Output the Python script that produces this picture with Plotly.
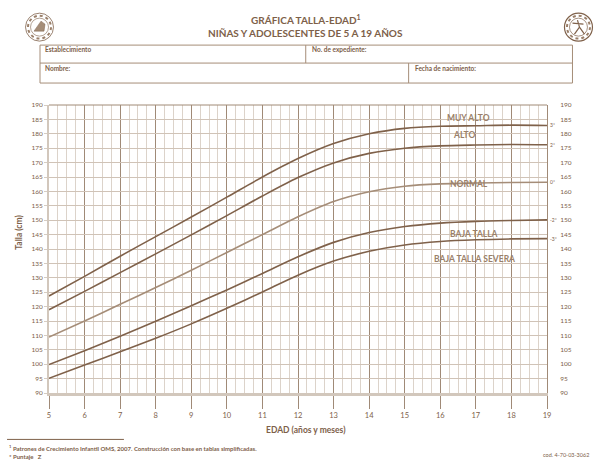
import plotly.graph_objects as go

W, H = 603, 465
IZQ, DER, ARR, ABA = 49, 547.5, 105, 393.5
FUENTE = "Lato"
CAFE = "#7d6049"
LINEA = "#7f614a"
LINEA_CLARA = "#a58d78"

edades = list(range(5, 20))
z_m3 = [95.1, 99.7, 104.3, 109.0, 114.0, 119.4, 125.1, 130.9, 135.8, 139.2, 141.4, 142.6, 143.2, 143.5, 143.6]
z_m2 = [99.9, 104.7, 109.7, 114.9, 120.3, 125.8, 131.5, 137.3, 142.3, 145.7, 147.8, 149.0, 149.6, 149.9, 150.1]
z_0 = [109.4, 115.0, 120.8, 126.6, 132.6, 138.8, 145.0, 151.2, 156.5, 159.9, 161.8, 162.6, 162.9, 163.1, 163.2]
z_p2 = [118.9, 125.3, 131.8, 138.3, 144.9, 151.6, 158.4, 164.8, 169.9, 173.2, 175.0, 175.8, 176.1, 176.3, 176.2]
z_p3 = [123.7, 130.5, 137.5, 144.3, 151.1, 158.0, 165.0, 171.4, 176.6, 180.0, 181.9, 182.6, 182.8, 183.0, 182.9]

curvas = [("-3*", z_m3, LINEA), ("-2*", z_m2, LINEA), ("0*", z_0, LINEA_CLARA), ("2*", z_p2, LINEA), ("3*", z_p3, LINEA)]
zonas = ["MUY ALTO", "ALTO", "NORMAL", "BAJA TALLA", "BAJA TALLA SEVERA"]
zonas_x = [16.78, 16.68, 16.82, 16.95, 16.97]
zonas_y = [185.5, 179.6, 162.6, 145.3, 136.7]
meses = [3, 6, 9]
alturas = list(range(90, 195, 5))

fig = go.Figure()

for nombre, valores, color in curvas:
    fig.add_trace(go.Scatter(x=edades, y=valores, mode="lines", name=nombre,
                             line=dict(color=color, width=1.6, shape="spline", smoothing=0.8)))

# meses debajo del eje
mes_x = [e + m / 12 for e in edades[:-1] for m in meses]
mes_txt = [str(m) for e in edades[:-1] for m in meses]
fig.add_trace(go.Scatter(x=mes_x, y=[88.7] * len(mes_x), mode="text", text=mes_txt, cliponaxis=False,
                         textfont=dict(family=FUENTE, size=5, color=CAFE)))
# traza vacia para que salga el eje derecho
fig.add_trace(go.Scatter(x=[5], y=[90], yaxis="y2", mode="markers", marker=dict(opacity=0)))


# pixeles de la pagina a coordenadas paper (relativas al area del grafico)
def px(x):
    return (x - IZQ) / (DER - IZQ)


def py(y):
    return (ABA - y) / (ABA - ARR)


def texto(x, y, s, size=6.5, bold=True, anchor="left", color=CAFE, angle=0):
    fig.add_annotation(xref="paper", yref="paper", x=px(x), y=py(y), text=f"<b>{s}</b>" if bold else s,
                       showarrow=False, xanchor=anchor, yanchor="middle", textangle=angle,
                       font=dict(family=FUENTE, size=size, color=color))


def linea(x0, y0, x1, y1, color=LINEA_CLARA, width=1):
    fig.add_shape(type="line", xref="paper", yref="paper", x0=px(x0), y0=py(y0), x1=px(x1), y1=py(y1),
                  line=dict(color=color, width=width))


def circulo(cx, cy, r, width=1, color=LINEA, dash="solid"):
    fig.add_shape(type="circle", xref="paper", yref="paper", x0=px(cx - r), x1=px(cx + r),
                  y0=py(cy + r), y1=py(cy - r), line=dict(color=color, width=width, dash=dash))


# zonas y puntaje z
for s, x, y in zip(zonas, zonas_x, zonas_y):
    fig.add_annotation(x=x, y=y, text=f"<b>{s}</b>", showarrow=False,
                       font=dict(family=FUENTE, size=8.5, color="#9a7f69"))
for nombre, valores, color in curvas:
    fig.add_annotation(x=19, y=valores[-1], text=nombre, showarrow=False, xanchor="left", xshift=1,
                       font=dict(family=FUENTE, size=5, color=CAFE))

# titulo y formulario
texto(306, 19, "GRÁFICA TALLA-EDAD<sup>1</sup>", size=10, anchor="center")
texto(306, 33, "NIÑAS Y ADOLESCENTES DE 5 A 19 AÑOS", size=10, anchor="center")
fig.add_shape(type="rect", xref="paper", yref="paper", x0=px(40), x1=px(573), y0=py(83), y1=py(45),
              line=dict(color=LINEA_CLARA, width=1))
linea(40, 63, 573, 63)
linea(306, 45, 306, 63)
linea(409, 63, 409, 83)
texto(43, 49, "Establecimiento", size=6.5)
texto(310, 49, "No. de expediente:", size=6.5)
texto(43, 68, "Nombre:", size=6.5)
texto(413, 68, "Fecha de nacimiento:", size=6.5)

# ejes: titulos
texto(306, 431, "EDAD (años y meses)", size=8.5, anchor="center")
texto(19, 233, "Talla (cm)", size=8.5, anchor="center", angle=-90)

# escudos
circulo(39.5, 27, 14, 0.8)
circulo(39.5, 27, 11.5, 2, color="#9a7f69", dash="dot")
circulo(39.5, 27, 9, 0.6)
fig.add_shape(type="path", xref="paper", yref="paper", line=dict(color=LINEA, width=0.5), fillcolor="#a58d78",
              path=f"M {px(34)} {py(31)} L {px(41)} {py(21)} L {px(45)} {py(24)} L {px(44)} {py(31)} Z")
circulo(579, 27, 14, 1.2)
circulo(579, 27, 11.5, 2, color="#9a7f69", dash="dot")
circulo(579, 27, 9, 0.7)
fig.add_shape(type="path", xref="paper", yref="paper", line=dict(color=LINEA, width=1.2),
              path=f"M {px(578)} {py(20)} L {px(580)} {py(27)} L {px(575)} {py(34)} M {px(580)} {py(27)} L {px(585)} {py(34)} M {px(573)} {py(23)} L {px(584)} {py(24)}")

# pie de pagina
linea(7, 440, 124, 440, color=LINEA, width=1)
texto(7, 449, "<sup>1</sup> Patrones de Crecimiento Infantil OMS, 2007. Construcción con base en tablas simplificadas.", size=6)
texto(7, 457, "* Puntaje   Z", size=6)
texto(592, 456, "cod. 4-70-03-3062", size=5.5, bold=False, anchor="right")

fig.update_layout(
    width=W, height=H, autosize=False, showlegend=False,
    margin=dict(l=IZQ, r=W - DER, t=ARR, b=H - ABA, pad=0),
    plot_bgcolor="white", paper_bgcolor="white",
    xaxis=dict(range=[5, 19], tickvals=edades, ticktext=[str(e) for e in edades],
               showgrid=True, gridcolor="#a08a77", gridwidth=1,
               ticks="outside", ticklen=13, tickcolor="#a08a77", tickwidth=1,
               tickfont=dict(family=FUENTE, size=7.5, color=CAFE),
               minor=dict(dtick=0.25, tick0=5, showgrid=True, gridcolor="#dcd3ca", gridwidth=1.2, ticks=""),
               showline=True, linecolor="#d2c7bc", linewidth=2.5, zeroline=False),
    yaxis=dict(range=[90, 190], tickvals=alturas, showgrid=True, gridcolor="#d0c3b7", gridwidth=1.1,
               ticks="outside", ticklen=3, tickcolor="#d6ccc2",
               tickfont=dict(family=FUENTE, size=6.5, color=CAFE), zeroline=False,
               showline=True, linecolor="#d2c7bc", linewidth=2),
    yaxis2=dict(range=[90, 190], tickvals=alturas, overlaying="y", side="right", showgrid=False,
                ticks="", ticklabelstandoff=11, zeroline=False,
                tickfont=dict(family=FUENTE, size=6.5, color=CAFE),
                showline=True, linecolor="#a08a77", linewidth=1),
)
# borde superior oscuro
linea(49, 105, 547.5, 105, color="#a08a77", width=1)

fig.write_html("out.html", config={"displayModeBar": False}, post_script="document.body.style.margin='0';")
